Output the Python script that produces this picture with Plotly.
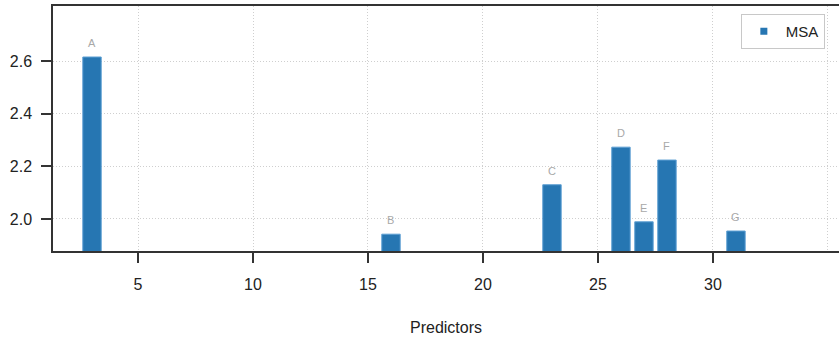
import plotly.graph_objects as go

predictors = [3, 16, 23, 26, 27, 28, 31]
msa_values = [2.616, 1.942, 2.130, 2.273, 1.989, 2.224, 1.954]
labels = ["A", "B", "C", "D", "E", "F", "G"]
x_tickvals = [5, 10, 15, 20, 25, 30]
x_ticktext = ["5", "10", "15", "20", "25", "30"]
x_extra_grid = [35]
y_tickvals = [2.0, 2.2, 2.4, 2.6]
y_ticktext = ["2.0", "2.2", "2.4", "2.6"]

FONT = "Liberation Sans, Arial"

fig = go.Figure()
fig.add_trace(go.Bar(
    x=predictors, y=msa_values, name="MSA", width=0.8,
    marker=dict(color="#2676b2", line=dict(color="#5d9fd3", width=1)),
    showlegend=False,
))
# legend entry with a small square marker
fig.add_trace(go.Scatter(
    x=[None], y=[None], mode="markers", name="MSA",
    marker=dict(symbol="square", size=7, color="#2676b2"),
    showlegend=True,
))

for xv, yv, lab in zip(predictors, msa_values, labels):
    fig.add_annotation(x=xv, y=yv, text=lab, showarrow=False,
                       yanchor="bottom", yshift=6,
                       font=dict(color="#a8a8a8", size=11, family=FONT))

fig.update_layout(
    width=839, height=340,
    margin=dict(l=53, r=0, t=6, b=89),
    paper_bgcolor="white", plot_bgcolor="white",
    font=dict(family=FONT, size=16, color="#222"),
    showlegend=True,
    legend=dict(x=0.982, xanchor="right", y=0.967, yanchor="top",
                bordercolor="#c8c8c8", borderwidth=1, bgcolor="white",
                font=dict(size=15, color="#222"), itemwidth=34),
    xaxis=dict(range=[1.304, 35.48], tickmode="array",
               tickvals=x_tickvals, ticktext=x_ticktext,
               showgrid=True, gridcolor="#cfcfcf", griddash="1px,2px", gridwidth=1,
               minor=dict(tickmode="array", tickvals=x_extra_grid, showgrid=True,
                          gridcolor="#cfcfcf", griddash="1px,2px", gridwidth=1,
                          ticks=""),
               showline=True, linecolor="#333", linewidth=1.5, mirror=True,
               ticks="outside", ticklen=10, tickcolor="#333", tickwidth=1.5,
               ticklabelstandoff=8,
               zeroline=False, automargin=False,
               title=dict(text="Predictors", font=dict(size=16, color="#222"), standoff=30)),
    yaxis=dict(range=[1.878, 2.81], tickvals=y_tickvals, ticktext=y_ticktext,
               showgrid=True, gridcolor="#cfcfcf", griddash="1px,2px", gridwidth=1,
               showline=True, linecolor="#333", linewidth=1.5,
               ticks="outside", ticklen=10, tickcolor="#333", tickwidth=1.5,
               ticklabelstandoff=6,
               zeroline=False, automargin=False),
)

fig.write_html("out.html", config={"displayModeBar": False},
               post_script="document.body.style.margin='0';")
